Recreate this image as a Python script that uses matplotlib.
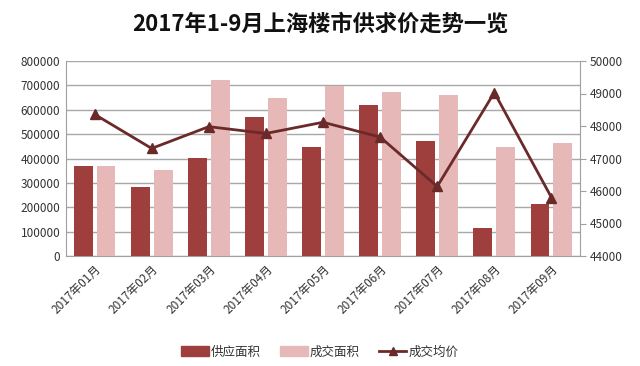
import matplotlib
matplotlib.use("Agg")
import matplotlib.pyplot as plt
import numpy as np
from matplotlib.lines import Line2D
from matplotlib.patches import Patch

plt.rcParams['font.family'] = ['Noto Sans CJK SC', 'DejaVu Sans']

months = ["2017年01月", "2017年02月", "2017年03月", "2017年04月", "2017年05月",
          "2017年06月", "2017年07月", "2017年08月", "2017年09月"]
supply = [370000, 285000, 402000, 572000, 446000, 621000, 473000, 114000, 213000]
deal = [370000, 352000, 721000, 649000, 696000, 674000, 662000, 447000, 465000]
price = [48360, 47310, 47980, 47770, 48115, 47660, 46140, 49030, 45800]

c_dark = "#9E3F3D"
c_light = "#E6B8B7"
c_line = "#6B2A2A"
txt = "#333333"

fig = plt.figure(figsize=(6.4, 3.66), dpi=100)
ax = fig.add_axes([66/640, 1-256/366, (580-66)/640, (256-61)/366])
x = np.arange(len(months))
w = 0.33
ax.bar(x - 0.2, supply, width=w, color=c_dark, zorder=3)
ax.bar(x + 0.2, deal, width=w, color=c_light, zorder=3)
ax.set_xlim(-0.5, len(months) - 0.5)
ax.set_ylim(0, 800000)
ax.set_yticks(np.arange(0, 800001, 100000))
ax.yaxis.grid(True, color="#A8A8A8", linewidth=1, zorder=0)
ax.set_axisbelow(True)
for s in ["top", "right"]:
    ax.spines[s].set_visible(False)
ax.spines["left"].set_color("#A0A0A0")
ax.spines["bottom"].set_color("#A0A0A0")
ax.tick_params(axis="y", length=0, labelsize=8.5, labelcolor=txt, pad=4)
ax.set_xticks(x)
ax.set_xticklabels(months, rotation=45, ha="right", rotation_mode="anchor",
                   fontsize=8.5, color=txt)
ax.tick_params(axis="x", length=0, pad=5)

ax2 = ax.twinx()
ax2.plot(x, price, color=c_line, linewidth=2, marker="^", markersize=7, zorder=5)
ax2.set_ylim(44000, 50000)
ax2.set_yticks(np.arange(44000, 50001, 1000))
for s in ["top", "left", "bottom"]:
    ax2.spines[s].set_visible(False)
ax2.spines["right"].set_color("#A0A0A0")
ax2.tick_params(axis="y", length=4, color="#A0A0A0", labelsize=8.5, labelcolor=txt, pad=3)

fig.text(0.5, 0.935, "2017年1-9月上海楼市供求价走势一览", ha="center", va="center",
         fontsize=16, fontweight="bold", color="#111111")

handles = [Patch(color=c_dark), Patch(color=c_light),
           Line2D([0], [0], color=c_line, linewidth=2, marker="^", markersize=6)]
fig.legend(handles, ["供应面积", "成交面积", "成交均价"], loc="center",
           bbox_to_anchor=(0.5, 1-352/366), ncol=3, frameon=False, fontsize=9,
           handlelength=2.2, handleheight=0.8, columnspacing=1.5, handletextpad=0.2,
           labelcolor=txt)

fig.savefig("out.png", dpi=100)
